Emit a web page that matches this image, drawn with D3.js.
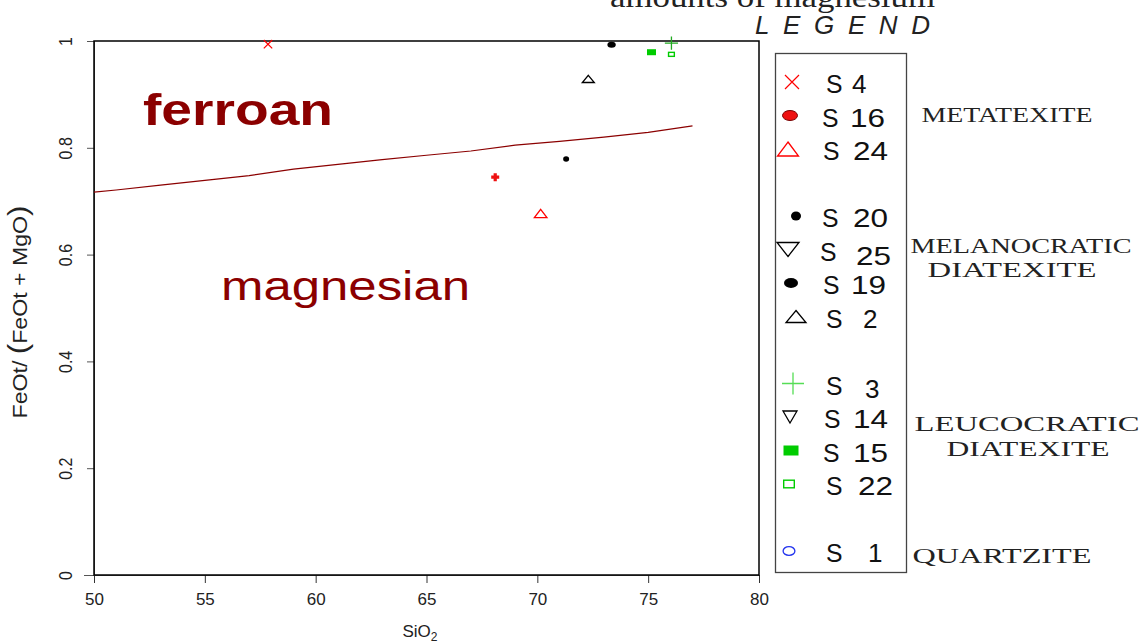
<!DOCTYPE html>
<html>
<head>
<meta charset="utf-8">
<script src="https://cdn.jsdelivr.net/npm/d3@7"></script>
<style>
  body { margin: 0; background: #fff; }
  svg { display: block; }
  .tick text { font-family: "Liberation Sans", Arial, sans-serif; font-size: 16px; fill: #222; }
</style>
</head>
<body>
<svg width="1142" height="641"></svg>
<script>
// samples, in legend order
const sampleIds = ['4', '16', '24', '20', '25', '19', '2', '3', '14', '15', '22', '1'];
const sio2Values = [57.85, 68.1, 70.15, 71.3, null, 73.35, 72.3, 76.05, null, 75.15, 76.05, null];
const ratioValues = [0.994, 0.745, 0.677, 0.779, null, 0.993, 0.929, 0.996, null, 0.979, 0.975, null];
// legend row of each sample (gaps between groups)
const legendRows = [0, 1, 2, 4, 5, 6, 7, 9, 10, 11, 12, 14];

const groupNames = [['METATEXITE'], ['MELANOCRATIC', 'DIATEXITE'], ['LEUCOCRATIC', 'DIATEXITE'], ['QUARTZITE']];

// ferroan / magnesian boundary
const boundarySio2 = [50, 51, 53, 55, 57, 59, 61, 63, 65, 67, 69, 71, 73, 75, 77];
const boundaryRatio = [0.717, 0.721, 0.730, 0.739, 0.748, 0.760, 0.769, 0.778, 0.786, 0.794, 0.805, 0.812, 0.820, 0.829, 0.841];

const xTicks = [50, 55, 60, 65, 70, 75, 80];
const yTicks = [0, 0.2, 0.4, 0.6, 0.8, 1];

// marker styles (legend size; plot uses a smaller factor), legend x offsets
const style = {
  '4':  { shape: 'cross', color: '#ff0000', w: 14, h: 14, lx: 792, sx: 826, nx: 852 },
  '16': { shape: 'dot', color: '#ee1111', stroke: '#770000', w: 15, h: 10, plot: 'fplus', lx: 790, sx: 822, nx: 850 },
  '24': { shape: 'tri', color: '#ff0000', w: 21, h: 14, lx: 788, sx: 823, nx: 853 },
  '20': { shape: 'dot', color: '#000', w: 10, h: 9, lx: 796, sx: 822, nx: 853 },
  '25': { shape: 'tridown', color: '#000', w: 22, h: 14, lx: 788, sx: 820, nx: 856, ndy: 4 },
  '19': { shape: 'dot', color: '#000', w: 14, h: 10, lx: 791, sx: 823, nx: 851 },
  '2':  { shape: 'tri', color: '#000', w: 20, h: 12, lx: 796, sx: 826, nx: 863 },
  '3':  { shape: 'plus', color: '#55dd55', plotColor: '#22aa22', w: 22, h: 22, lx: 793, sx: 826, nx: 865, ndy: 3 },
  '14': { shape: 'tridown', color: '#000', w: 14, h: 12, lx: 790, sx: 824, nx: 853 },
  '15': { shape: 'square', color: '#00cc00', w: 15, h: 10, lx: 791, sx: 823, nx: 853 },
  '22': { shape: 'osquare', color: '#00cc00', w: 12, h: 9, lx: 789, sx: 826, nx: 858 },
  '1':  { shape: 'circle', color: '#2233ee', w: 13, h: 10, lx: 789, sx: 826, nx: 868 }
};

const svg = d3.select('svg');
const x = d3.scaleLinear().domain([50, 80]).range([94, 759]);
const y = d3.scaleLinear().domain([0, 1]).range([575, 41]);
const legendY = d3.scaleLinear().domain([0, 14]).range([82, 551]);

function drawMarker(g, shape, w, h, color, stroke) {
  const hw = w / 2, hh = h / 2;
  if (shape === 'cross') {
    g.append('path').attr('d', `M${-hw},${-hh}L${hw},${hh}M${-hw},${hh}L${hw},${-hh}`)
      .attr('stroke', color).attr('stroke-width', 1.2).attr('fill', 'none');
  } else if (shape === 'plus') {
    g.append('path').attr('d', `M${-hw},0L${hw},0M0,${-hh}L0,${hh}`)
      .attr('stroke', color).attr('stroke-width', 1.3).attr('fill', 'none');
  } else if (shape === 'fplus') {
    g.append('path').attr('d', `M${-hw},-1.6H${hw}V1.6H${-hw}ZM-1.6,${-hh}H1.6V${hh}H-1.6Z`)
      .attr('fill', color);
  } else if (shape === 'dot') {
    g.append('ellipse').attr('rx', hw).attr('ry', hh).attr('fill', color)
      .attr('stroke', stroke || 'none').attr('stroke-width', 1);
  } else if (shape === 'circle') {
    g.append('ellipse').attr('rx', hw - 0.6).attr('ry', hh - 0.6).attr('fill', 'none')
      .attr('stroke', color).attr('stroke-width', 1.3);
  } else if (shape === 'tri') {
    g.append('path').attr('d', `M0,${-hh}L${hw},${hh}L${-hw},${hh}Z`)
      .attr('fill', 'none').attr('stroke', color).attr('stroke-width', 1.3);
  } else if (shape === 'tridown') {
    g.append('path').attr('d', `M0,${hh}L${hw},${-hh}L${-hw},${-hh}Z`)
      .attr('fill', 'none').attr('stroke', color).attr('stroke-width', 1.3);
  } else if (shape === 'square') {
    g.append('rect').attr('x', -hw).attr('y', -hh).attr('width', w).attr('height', h).attr('fill', color);
  } else if (shape === 'osquare') {
    g.append('rect').attr('x', -hw + 0.7).attr('y', -hh + 0.7).attr('width', w - 1.4).attr('height', h - 1.4)
      .attr('fill', 'none').attr('stroke', color).attr('stroke-width', 1.4);
  }
}

// title, cut at the top
svg.append('text').attr('x', 610).attr('y', 7)
  .attr('textLength', 325).attr('lengthAdjust', 'spacingAndGlyphs')
  .style('font-family', '"Liberation Serif", "Times New Roman", serif').style('font-size', '30px')
  .attr('fill', '#222').text('amounts of magnesium');

svg.append('text').attr('x', 755).attr('y', 34)
  .attr('textLength', 175).attr('lengthAdjust', 'spacing')
  .style('font-family', '"Liberation Sans", Arial, sans-serif').style('font-size', '26px')
  .style('font-style', 'italic').attr('fill', '#222').text('LEGEND');

// axes
const xAxis = svg.append('g').attr('transform', 'translate(0,575)')
  .call(d3.axisBottom(x).tickValues(xTicks).tickSize(8).tickPadding(10));
xAxis.select('.domain').attr('stroke', '#555').attr('d', 'M84,0.5H759');
xAxis.selectAll('.tick line').attr('stroke', '#333');
xAxis.selectAll('.tick text').style('font-size', '17px');

const yAxis = svg.append('g').attr('transform', 'translate(94,0)')
  .call(d3.axisLeft(y).tickValues(yTicks).tickSize(7).tickFormat(d => d === 0 ? '0' : d === 1 ? '1' : d3.format('.1f')(d)));
yAxis.select('.domain').attr('stroke', '#555');
yAxis.selectAll('.tick line').attr('stroke', '#555');
yAxis.selectAll('.tick text')
  .attr('transform', 'rotate(-90) scale(1,1.2)').attr('x', 0).attr('y', -18).attr('dy', 0)
  .attr('text-anchor', 'middle').style('font-size', '16px');

// plot box
svg.append('rect').attr('x', 94).attr('y', 41).attr('width', 665).attr('height', 534)
  .attr('fill', 'none').attr('stroke', '#000').attr('stroke-width', 1.5);

// axis titles
const xl = svg.append('text').attr('x', 420).attr('y', 637).attr('text-anchor', 'middle')
  .style('font-family', '"Liberation Sans", Arial, sans-serif').style('font-size', '17px').attr('fill', '#222');
xl.append('tspan').text('SiO');
xl.append('tspan').attr('dy', 4).style('font-size', '12px').text('2');

const yl = svg.append('text').attr('transform', 'translate(27,312) rotate(-90) scale(1,1.2)').attr('text-anchor', 'middle')
  .attr('textLength', 213).attr('lengthAdjust', 'spacingAndGlyphs')
  .style('font-family', '"Liberation Sans", Arial, sans-serif').style('font-size', '17px').attr('fill', '#222');
yl.append('tspan').text('FeOt/ ');
yl.append('tspan').style('font-size', '23px').style('font-weight', '300').text('(');
yl.append('tspan').text('FeOt + MgO');
yl.append('tspan').style('font-size', '23px').style('font-weight', '300').text(')');

// boundary line
const boundary = boundarySio2.map((s, i) => [s, boundaryRatio[i]]);
svg.append('path').datum(boundary)
  .attr('d', d3.line().x(d => x(d[0])).y(d => y(d[1])))
  .attr('fill', 'none').attr('stroke', '#8b0000').attr('stroke-width', 1.2);

svg.append('text').attr('x', 143).attr('y', 125)
  .attr('textLength', 190).attr('lengthAdjust', 'spacingAndGlyphs')
  .style('font-family', '"Liberation Sans", Arial, sans-serif').style('font-size', '45px').style('font-weight', 'bold')
  .attr('fill', '#8b0000').text('ferroan');

svg.append('text').attr('x', 221).attr('y', 300)
  .attr('textLength', 249).attr('lengthAdjust', 'spacingAndGlyphs')
  .style('font-family', '"Liberation Sans", Arial, sans-serif').style('font-size', '40px')
  .attr('fill', '#8b0000').text('magnesian');

// data points
sampleIds.forEach((id, i) => {
  if (sio2Values[i] == null) return;
  const s = style[id];
  const g = svg.append('g').attr('transform', `translate(${x(sio2Values[i])},${y(ratioValues[i])})`);
  const k = 0.6;
  drawMarker(g, s.plot || s.shape, s.plot === 'fplus' ? 8 : s.w * k, s.plot === 'fplus' ? 8 : s.h * k,
    s.plotColor || s.color, null);
});

// legend
svg.append('rect').attr('x', 775.5).attr('y', 53.5).attr('width', 131).attr('height', 519)
  .attr('fill', 'none').attr('stroke', '#444').attr('stroke-width', 1.3);

const legendFont = t => t.style('font-family', '"Liberation Sans", Arial, sans-serif')
  .style('font-size', '26px').attr('fill', '#111').attr('lengthAdjust', 'spacingAndGlyphs');
sampleIds.forEach((id, i) => {
  const s = style[id];
  const ly = legendY(legendRows[i]);
  const g = svg.append('g').attr('transform', `translate(${s.lx},${ly})`);
  drawMarker(g, s.shape, s.w, s.h, s.color, s.stroke);
  svg.append('text').attr('x', s.sx).attr('y', ly + 11).attr('textLength', 16.5).call(legendFont).text('S');
  svg.append('text').attr('x', s.nx).attr('y', ly + 11 + (s.ndy || 0))
    .attr('textLength', id.length === 1 ? 14.5 : 35).call(legendFont).text(id);
});

// group labels
const groupBase = [[122], [253, 277], [431, 456], [563]];
const groupX = [1007, 1021, 1012, 1027, 1028, 1002];
const groupW = [171, 221, 169, 225, 163, 179];
let li = 0;
groupNames.forEach((lines, gi) => {
  lines.forEach((ln, j) => {
    svg.append('text').attr('x', groupX[li] - groupW[li] / 2).attr('y', groupBase[gi][j])
      .attr('textLength', groupW[li]).attr('lengthAdjust', 'spacingAndGlyphs')
      .style('font-family', '"Liberation Serif", "Times New Roman", serif').style('font-size', '21px')
      .attr('fill', '#222').text(ln);
    li++;
  });
});
</script>
</body>
</html>
